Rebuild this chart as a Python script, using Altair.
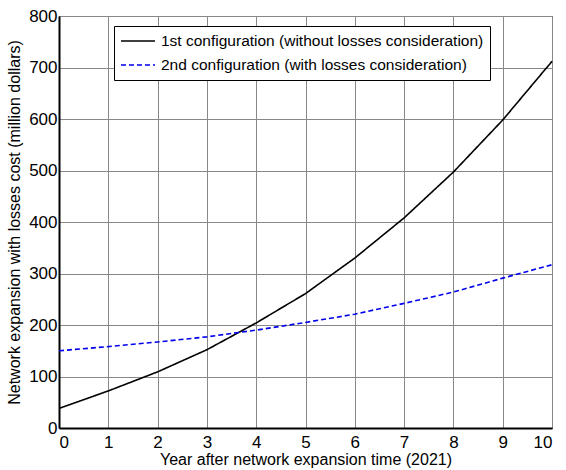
import altair as alt
import pandas as pd

years = [0, 1, 2, 3, 4, 5, 6, 7, 8, 9, 10]
config1 = [38, 72, 109, 152, 204, 261, 330, 408, 497, 598, 712]
config2 = [150, 158, 167, 177, 190, 205, 221, 242, 264, 291, 317]
labels = ["1st configuration (without losses consideration)",
          "2nd configuration (with losses consideration)"]

rows = []
for y, a, b in zip(years, config1, config2):
    rows.append({"year": y, "cost": a, "series": labels[0]})
    rows.append({"year": y, "cost": b, "series": labels[1]})
df = pd.DataFrame(rows)

FONT = "Liberation Sans"

legend = alt.Legend(title=None, orient="none", legendX=55, legendY=10)

chart = alt.Chart(df).mark_line(strokeWidth=1.6).encode(
    x=alt.X("year:Q", scale=alt.Scale(domain=[0, 10], nice=False),
            axis=alt.Axis(values=years, title="Year after network expansion time (2021)",
                          format="d")),
    y=alt.Y("cost:Q", scale=alt.Scale(domain=[0, 800], nice=False),
            axis=alt.Axis(values=list(range(0, 801, 100)),
                          title="Network expansion with losses cost (million dollars)",
                          format="d")),
    color=alt.Color("series:N", scale=alt.Scale(domain=labels, range=["black", "#0000ee"]),
                    legend=legend),
    strokeDash=alt.StrokeDash("series:N", scale=alt.Scale(domain=labels, range=[[1, 0], [5, 3]]),
                              legend=legend),
).properties(
    width=493, height=412,
    autosize=alt.AutoSizeParams(type="none"),
    padding={"left": 59, "top": 16, "right": 14, "bottom": 42},
).configure_view(
    stroke="black", strokeWidth=1
).configure_axis(
    labelFont=FONT, titleFont=FONT, labelColor="black", titleColor="black",
    labelFontSize=17, titleFontSize=16, titleFontWeight="normal",
    domainColor="black", domainWidth=2,
    gridColor="#888888", gridWidth=1, gridOpacity=1,
    ticks=False,
).configure_axisX(
    labelPadding=6, titlePadding=1,
).configure_axisY(
    labelPadding=2, titlePadding=6,
).configure_legend(
    fillColor="white", strokeColor="black", padding=6, cornerRadius=0,
    labelFont=FONT, labelFontSize=15.5, labelColor="black",
    symbolType="M-1,0H1", symbolStrokeWidth=1.6, symbolSize=1156,
    clipHeight=18, rowPadding=6,
    labelOffset=5, labelLimit=500,
)

chart.save("out.html", embed_options={"renderer": "svg", "actions": False})
